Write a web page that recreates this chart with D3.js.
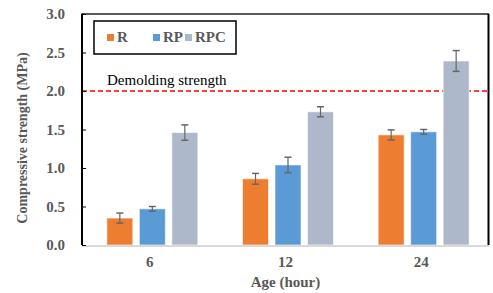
<!DOCTYPE html>
<html>
<head>
<meta charset="utf-8">
<script src="https://cdn.jsdelivr.net/npm/d3@7"></script>
<style>
  body { margin: 0; background: #fff; }
</style>
</head>
<body>
<svg id="chart" width="493" height="293"></svg>
<script>
var ages = ['6', '12', '24'];
var series = ['R', 'RP', 'RPC'];
var colors = ['#ED7D31', '#5B9BD5', '#ADB9CA'];
var means_R = [0.35, 0.86, 1.43];
var means_RP = [0.47, 1.04, 1.47];
var means_RPC = [1.46, 1.73, 2.39];
var err_R = [0.065, 0.07, 0.065];
var err_RP = [0.03, 0.10, 0.03];
var err_RPC = [0.10, 0.065, 0.135];
var y_ticks = [0, 0.5, 1.0, 1.5, 2.0, 2.5, 3.0];
var demolding = 2.0;

var means = [means_R, means_RP, means_RPC];
var errs = [err_R, err_RP, err_RPC];

var serif = "Liberation Serif, DejaVu Serif, serif";
var plot = {left: 82, right: 489, top: 14, bottom: 245};
var svg = d3.select('#chart');

var x_scale = d3.scaleBand()
  .domain(ages)
  .range([plot.left, plot.right]);

var x_inner = d3.scaleBand()
  .domain(series)
  .range([0, 91])
  .paddingInner(0.2);

var y_scale = d3.scaleLinear()
  .domain([0, 3])
  .range([plot.bottom, plot.top]);

// flatten into bar records
var bars = [];
ages.forEach(function(a, i) {
  series.forEach(function(s, j) {
    bars.push({age: a, name: s, color: colors[j], value: means[j][i], err: errs[j][i]});
  });
});

function bar_x(d) {
  var center = x_scale(d.age) + x_scale.bandwidth() / 2;
  return center - 43 + x_inner(d.name);
}

// demolding line
svg.append('line')
  .attr('x1', plot.left)
  .attr('x2', plot.right)
  .attr('y1', y_scale(demolding))
  .attr('y2', y_scale(demolding))
  .style('stroke', '#FF0000')
  .style('stroke-width', '1.5px')
  .style('stroke-dasharray', '5,3');

svg.append('text')
  .attr('x', 107)
  .attr('y', y_scale(demolding) - 6)
  .attr('font-family', serif)
  .style('font-size', '15px')
  .style('fill', '#000')
  .text('Demolding strength');

// bars
svg.selectAll('.bar')
  .data(bars)
  .enter()
  .append('rect')
  .attr('class', 'bar')
  .attr('x', bar_x)
  .attr('y', function(d) { return y_scale(d.value); })
  .attr('width', x_inner.bandwidth())
  .attr('height', function(d) { return y_scale(0) - y_scale(d.value); })
  .style('fill', function(d) { return d.color; })
  .style('stroke', 'rgba(255,255,255,0.6)')
  .style('stroke-width', '1px');

// error bars
var err_g = svg.selectAll('.err')
  .data(bars)
  .enter()
  .append('g')
  .attr('class', 'err')
  .attr('transform', function(d) {
    return 'translate(' + (bar_x(d) + x_inner.bandwidth() / 2) + ',0)';
  });

err_g.append('line')
  .attr('x1', 0).attr('x2', 0)
  .attr('y1', function(d) { return y_scale(d.value + d.err); })
  .attr('y2', function(d) { return y_scale(d.value - d.err); })
  .style('stroke', '#666')
  .style('stroke-width', '1.2px');

[1, -1].forEach(function(sign) {
  err_g.append('line')
    .attr('x1', -3.5).attr('x2', 3.5)
    .attr('y1', function(d) { return y_scale(d.value + sign * d.err); })
    .attr('y2', function(d) { return y_scale(d.value + sign * d.err); })
    .style('stroke', '#666')
    .style('stroke-width', '1.5px');
});

// frame: top and right
svg.append('line')
  .attr('x1', plot.left).attr('x2', plot.right)
  .attr('y1', plot.top).attr('y2', plot.top)
  .style('stroke', '#222').style('stroke-width', '1.5px');
svg.append('line')
  .attr('x1', plot.right - 0.5).attr('x2', plot.right - 0.5)
  .attr('y1', plot.top).attr('y2', plot.bottom)
  .style('stroke', '#000').style('stroke-width', '2px');

// x axis
svg.append('line')
  .attr('x1', plot.left).attr('x2', plot.right)
  .attr('y1', plot.bottom + 1).attr('y2', plot.bottom + 1)
  .style('stroke', '#D9D9D9').style('stroke-width', '2px');

svg.selectAll('.x_label')
  .data(ages)
  .enter()
  .append('text')
  .attr('class', 'x_label')
  .attr('x', function(d) { return x_scale(d) + x_scale.bandwidth() / 2; })
  .attr('y', 267)
  .attr('text-anchor', 'middle')
  .attr('font-family', serif)
  .style('font-size', '15px')
  .style('font-weight', 'bold')
  .style('fill', '#595959')
  .text(function(d) { return d; });

svg.append('text')
  .attr('x', x_scale('12') + x_scale.bandwidth() / 2)
  .attr('y', 287)
  .attr('text-anchor', 'middle')
  .attr('font-family', serif)
  .style('font-size', '15px')
  .style('font-weight', 'bold')
  .style('fill', '#595959')
  .text('Age (hour)');

// y axis
var y_axis = d3.axisLeft(y_scale)
  .tickValues(y_ticks)
  .tickSize(-4)
  .tickPadding(17)
  .tickFormat(d3.format('.1f'));

var y_g = svg.append('g')
  .attr('transform', 'translate(' + plot.left + ',0)')
  .call(y_axis)
  .attr('font-family', serif)
  .attr('font-size', 15);

y_g.select('.domain').remove();
y_g.selectAll('.tick line')
  .style('stroke', '#000')
  .style('stroke-width', '1px');
y_g.selectAll('.tick text')
  .style('font-weight', 'bold')
  .style('fill', '#595959');

svg.append('line')
  .attr('x1', plot.left).attr('x2', plot.left)
  .attr('y1', plot.top - 0.5).attr('y2', plot.bottom)
  .style('stroke', '#000').style('stroke-width', '2px');

svg.append('text')
  .attr('transform', 'translate(27,138) rotate(-90)')
  .attr('text-anchor', 'middle')
  .attr('font-family', serif)
  .style('font-size', '14px')
  .style('font-weight', 'bold')
  .style('fill', '#595959')
  .text('Compressive strength (MPa)');

// legend
svg.append('rect')
  .attr('x', 94).attr('y', 21)
  .attr('width', 142).attr('height', 33)
  .style('fill', '#fff')
  .style('stroke', '#000')
  .style('stroke-width', '1.5px');

var legend_x = [107, 153, 185];
var leg = svg.selectAll('.legend_item')
  .data(series)
  .enter()
  .append('g')
  .attr('class', 'legend_item')
  .attr('transform', function(d, i) { return 'translate(' + legend_x[i] + ',37)'; });

leg.append('rect')
  .attr('x', 0).attr('y', -3)
  .attr('width', 7).attr('height', 7)
  .style('fill', function(d, i) { return colors[i]; });

leg.append('text')
  .attr('x', 10)
  .attr('y', 5)
  .attr('font-family', serif)
  .style('font-size', '15px')
  .style('font-weight', 'bold')
  .style('fill', '#595959')
  .text(function(d) { return d; });
</script>
</body>
</html>
